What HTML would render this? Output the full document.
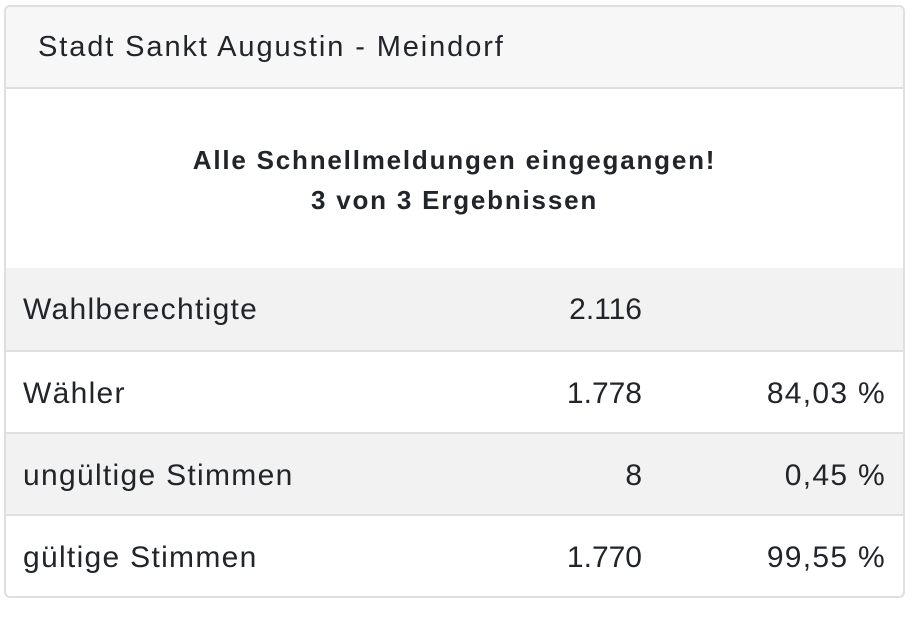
<!DOCTYPE html>
<html><head><style>
body{margin:0;background:#fff;width:915px;height:621px;font-family:"Liberation Sans",sans-serif;color:#212529}
.card{position:absolute;left:4px;top:5px;width:897px;height:589px;border:2px solid #dfdfdf;border-radius:6px;overflow:hidden}
.hdr{background:#f7f7f7;border-bottom:2px solid #dfdfdf;font-size:29px;letter-spacing:1.9px;line-height:80px;padding-left:32px;box-sizing:border-box;height:82px}
.msg{position:absolute;top:133px;left:0;width:100%;text-align:center;font-weight:bold;font-size:26px;letter-spacing:1.8px;line-height:40px}
.row{position:absolute;left:0;width:100%;height:82px;font-size:30px;letter-spacing:1.3px;line-height:84px;border-top:2px solid #e0e0e0;box-sizing:border-box}
.row span{position:absolute}
.l{left:17px}.n{right:261px;letter-spacing:0}.p{right:17px}
</style></head><body>
<div class="card">
<div class="hdr">Stadt Sankt Augustin - Meindorf</div>
<div class="msg">Alle Schnellmeldungen eingegangen!<br>3 von 3 Ergebnissen</div>
<div class="row" style="top:261px;background:#f2f2f2;border-top:none"><span class="l">Wahlberechtigte</span><span class="n">2.116</span></div>
<div class="row" style="top:343px"><span class="l">Wähler</span><span class="n">1.778</span><span class="p">84,03 %</span></div>
<div class="row" style="top:425px;background:#f2f2f2"><span class="l">ungültige Stimmen</span><span class="n">8</span><span class="p">0,45 %</span></div>
<div class="row" style="top:507px"><span class="l">gültige Stimmen</span><span class="n">1.770</span><span class="p">99,55 %</span></div>
</div>
</body></html>
